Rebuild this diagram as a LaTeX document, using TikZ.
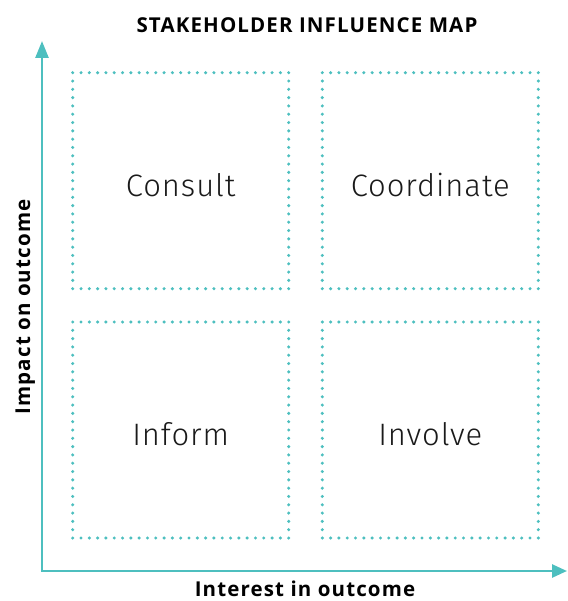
\documentclass[tikz,border=0pt]{standalone}
\usepackage{fontspec}
\setmainfont{Fira Sans}[UprightFont=* Light, BoldFont=* SemiBold]
\newfontfamily\labfont{Open Sans}[LetterSpace=5.5]
\usetikzlibrary{arrows.meta}
\definecolor{teal}{HTML}{4DBFBF}
\definecolor{ink}{HTML}{1A1A1A}
\begin{document}
\begin{tikzpicture}[x=1pt,y=-1pt,
  quad/.style={draw=teal, line width=3.4pt, line cap=round,
    dash pattern=on 0pt off 8.3077pt, minimum width=216pt, minimum height=216pt,
    inner sep=0pt, text height=31pt, text depth=0pt,
    font=\fontsize{31}{36}\selectfont\addfontfeatures{LetterSpace=3}, text=ink},
  axis/.style={draw=teal, line width=2.6pt, {Triangle[length=17pt,width=13pt]}-{Triangle[length=15pt,width=13pt]}},
  lab/.style={font=\labfont\bfseries\fontsize{20.5}{24}\selectfont, text=black, inner sep=0pt}]
\useasboundingbox (0,0) rectangle (567,601);
\node[lab, anchor=base] (title) at (307,33) {STAKEHOLDER INFLUENCE MAP};
\coordinate (origin) at (42,571);
\coordinate (ytop) at (42,41);
\coordinate (xend) at (567,571);
\draw[axis] (ytop) -- (origin) -- (xend);
\node[quad] (consult) at (180.7,180.7) {Consult};
\node[quad] (coord) at (430.3,180.7) {Coordinate};
\node[quad] (inform) at (180.7,430) {Inform};
\node[quad] (involve) at (430.3,430) {Involve};
\node[lab, rotate=90, anchor=base] (ylab) at (30,307) {Impact on outcome};
\node[lab, anchor=base, text depth=0pt] (xlab) at (305,596.5) {Interest in outcome};
\end{tikzpicture}
\end{document}
